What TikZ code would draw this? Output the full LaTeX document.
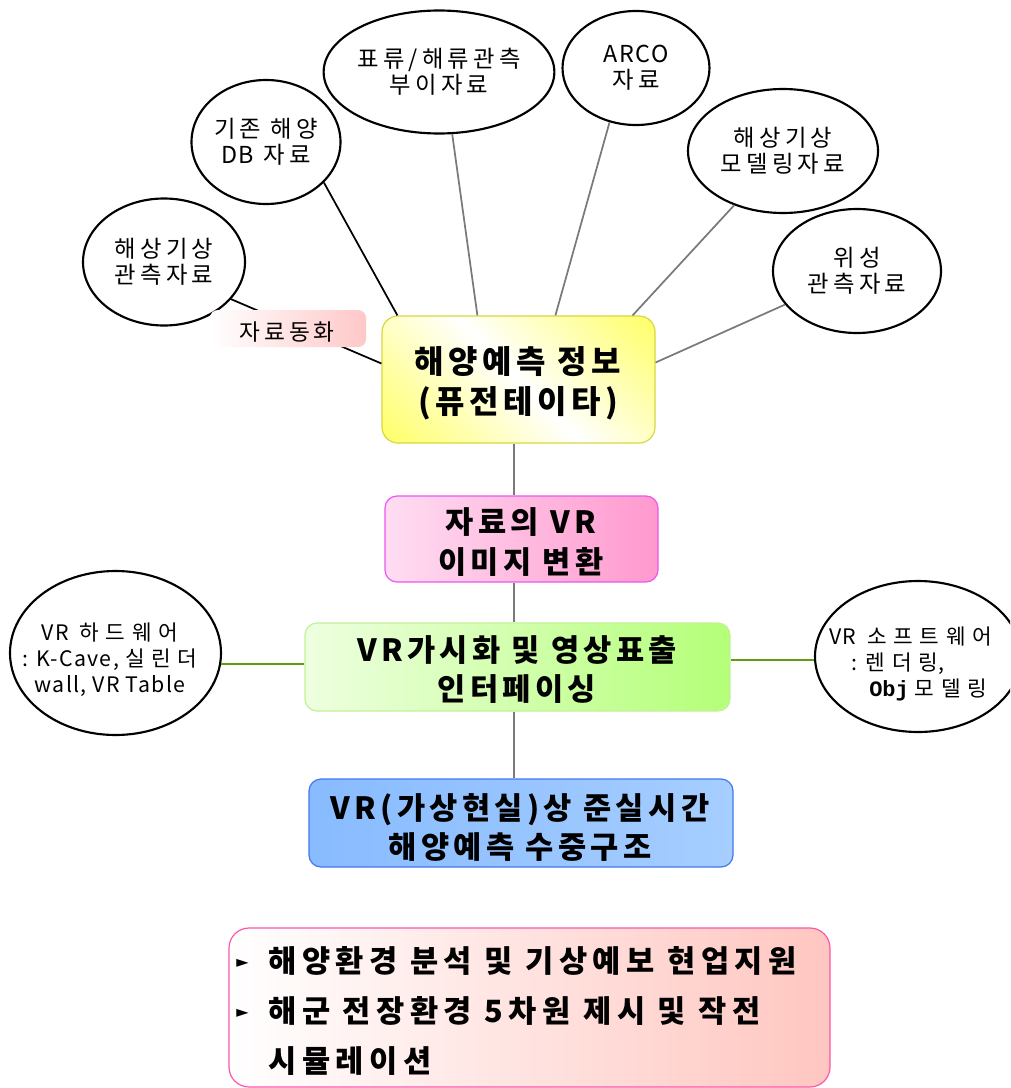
\documentclass[tikz,border=0pt]{standalone}
\usepackage{fontspec}
\setmainfont{Noto Sans CJK KR}
\newfontfamily\krl[LetterSpace=18]{Noto Sans CJK KR}
\newfontfamily\krw[LetterSpace=32]{Noto Sans CJK KR}
\newfontfamily\krm[LetterSpace=6]{Noto Sans CJK KR}
\newfontfamily\krb[LetterSpace=14]{Noto Sans CJK KR}
\newfontfamily\krbb[LetterSpace=18]{Noto Sans CJK KR}
\newfontfamily\symf{DejaVu Sans}
\newfontfamily\monof{Liberation Mono}
\usetikzlibrary{shapes.geometric,calc}
\definecolor{yel}{HTML}{FFFF55}
\definecolor{yelB}{HTML}{D8D840}
\definecolor{pinkL}{HTML}{FFDDF2}
\definecolor{pinkR}{HTML}{FF99CE}
\definecolor{pinkB}{HTML}{EE55EE}
\definecolor{grnL}{HTML}{EEFFE0}
\definecolor{grnR}{HTML}{B4FF78}
\definecolor{grnB}{HTML}{C4F09A}
\definecolor{bluL}{HTML}{88BBFF}
\definecolor{bluR}{HTML}{A6CEFF}
\definecolor{bluB}{HTML}{4477EE}
\definecolor{botR}{HTML}{FFC6C0}
\definecolor{botB}{HTML}{FF55AA}
\definecolor{labR}{HTML}{FFC8C8}
\definecolor{gryL}{HTML}{7A7A7A}
\definecolor{grnLine}{HTML}{5E9E10}
\pgfdeclareverticalshading{ywy}{100bp}{color(0bp)=(yel); color(22bp)=(yel); color(50bp)=(white); color(78bp)=(yel); color(100bp)=(yel)}
\def\pxu{0.75pt}
\newcommand{\bulmark}{\makebox[24pt][l]{\raisebox{4pt}{\symf\fontsize{12}{12}\selectfont ►}}}
\tikzset{
  ell/.style 2 args={ellipse, draw=black, line width=1.6pt, fill=white,
    minimum width=#1*\pxu, minimum height=#2*\pxu, inner sep=0pt, align=center,
    font=\krl\fontsize{17.5}{19.5}\selectfont},
  boxfont/.style={font=\krb\bfseries\fontsize{23}{29.5}\selectfont},
  rbox/.style n args={3}{rectangle, rounded corners=#1*\pxu, inner sep=0pt, align=center,
    minimum width=#2*\pxu, minimum height=#3*\pxu},
  blk/.style={draw=black, line width=1.3pt},
  gry/.style={draw=gryL, line width=1.3pt},
  grn/.style={draw=grnLine, line width=1.6pt},
  sidefont/.style={font=\krm\fontsize{16}{19.5}\selectfont},
}
\begin{document}
\begin{tikzpicture}[x=0.75pt,y=-0.75pt]
\useasboundingbox (0,0) rectangle (1010,1088);
\clip (0,0) rectangle (1010,1088);
\fill[white] (0,0) rectangle (1010,1088);

% central boxes
\node[rbox={16}{273}{127}, draw=yelB, line width=0.9pt,
  path picture={\shade[shading=ywy, shading angle=-45]
    ($(path picture bounding box.center)+(-140,-140)$) rectangle ++(280,280);}] (main) at (518.5,379.5) {};
\node[align=center, inner sep=0pt, font=\krb\bfseries\fontsize{24}{30}\selectfont] (maint) at (518,383)
  {해양예측 정보\\(퓨전테이타)};
\node[rbox={12}{273}{86}, draw=pinkB, line width=0.9pt, left color=pinkL, right color=pinkR] (pink) at (521.5,539) {};
\node[align=center, inner sep=0pt, boxfont] (pinkt) at (521,542) {자료의 VR\\이미지 변환};
\node[rbox={12}{425}{88}, draw=grnB, line width=0.9pt, left color=grnL, middle color=white, right color=grnR] (green) at (517.5,667) {};
\node[align=center, inner sep=0pt, boxfont] (greent) at (517,669.5) {VR가시화 및 영상표출\\인터페이싱};
\node[rbox={12}{424}{88}, draw=bluB, line width=0.9pt, left color=bluL, middle color=white, right color=bluR] (blue) at (521,823) {};
\node[align=center, inner sep=0pt, boxfont] (bluet) at (520,827.5) {VR(가상현실)상 준실시간\\해양예측 수중구조};

% ellipses
\node[ell={162}{127}] (obs1) at (164,262) {해상기상\\관측자료};
\node[ell={149}{124}] (db) at (266,142) {기존 해양\\{\krm DB} 자료};
\node[ell={206}{123}] (buoy) at (439,72) {표류/해류관측\\부이자료};
\node[ell={147}{114}] (arco) at (636,68) {{\krm ARCO}\\자료};
\node[ell={190}{124}] (model) at (783,151) {해상기상\\모델링자료};
\node[ell={168}{124}] (sat) at (857,271) {위성\\관측자료};

% connectors to central box
\draw[blk] (obs1.-29) -- ($(main.west)+(0,-16)$);
\draw[blk] (db.-35) -- ($(main.north west)+(16,0)$);
\draw[gry] (buoy.-78) -- ($(main.north west)+(96,0)$);
\draw[gry] (arco.-116) -- ($(main.north west)+(174,0)$);
\draw[gry] (model.-132) -- ($(main.north east)+(-23,0)$);
\draw[gry] (sat.-155) -- ($(main.east)+(0,-17)$);

% label
\node[rbox={8}{156}{37}, left color=white, right color=labR] (lab) at (288,328.5) {};
\node[inner sep=0pt, font=\krl\fontsize{17}{19}\selectfont] (labt) at (287,332) {자료동화};

% spine
\coordinate (sp) at (514,0);
\draw[gry] (main.south -| sp) -- (pink.north -| sp);
\draw[gry] (pink.south -| sp) -- (green.north -| sp);
\draw[gry] (green.south -| sp) -- (blue.north -| sp);

% side ellipses
\node[ell={211}{164}] (hw) at (115.5,653) {};
\node[align=center, inner sep=0pt, sidefont] (hwt) at (110,660)
  {VR\hspace{8pt}{\krw 하드웨어}\\: K-Cave, {\krw 실린더}\\wall, VR Table};
\node[ell={206}{151}] (sw) at (918,656.5) {};
\node[anchor=west, align=left, inner sep=0pt, sidefont] (swt) at (829,664)
  {VR\hspace{8pt}{\krw 소프트웨어}\\\hspace*{17pt}: {\krw 렌더링},\\\hspace*{30pt}{\monof\bfseries\fontsize{16.5}{19}\selectfont Obj} {\krw 모델링}};
\draw[grn] (hw.-6) -- (green.west |- hw.-6);
\draw[grn] (green.east |- sw.182) -- (sw.182);

% bottom box
\node[rbox={20}{601}{159}, draw=botB, line width=0.9pt, left color=white, right color=botR] (bot) at (529.5,1007.5) {};
\node[anchor=west, align=left, inner sep=0pt, font=\krbb\bfseries\fontsize{23}{37.5}\selectfont] (bottxt) at (236,1011)
  {\bulmark 해양환경 분석 및 기상예보 현업지원\\
   \bulmark 해군 전장환경 5차원 제시 및 작전\\
   \makebox[24pt][l]{}시뮬레이션};
\end{tikzpicture}
\end{document}
